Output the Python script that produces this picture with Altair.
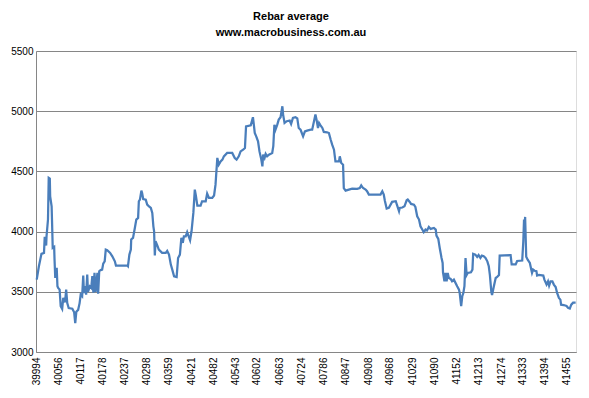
import altair as alt
import pandas as pd

# Excel date serials (x) and rebar average price (y)
dates = [
    39996, 40002, 40009, 40016, 40018, 40022, 40023, 40027, 40029, 40032,
    40033, 40037, 40038, 40040, 40044, 40045, 40047, 40051, 40053, 40055,
    40059, 40062, 40066, 40069, 40074, 40077, 40080, 40084, 40094, 40099,
    40102, 40105, 40110, 40114, 40117, 40121, 40124, 40126, 40129, 40132,
    40135, 40137, 40142, 40146, 40149, 40152, 40155, 40158, 40163, 40165,
    40168, 40172, 40176, 40179, 40183, 40186, 40190, 40198, 40204, 40211,
    40214, 40245, 40247, 40251, 40255, 40256, 40261, 40266, 40270, 40275,
    40277, 40280, 40284, 40286, 40289, 40296, 40300, 40305, 40310, 40314,
    40317, 40319, 40321, 40323, 40328, 40332, 40341, 40351, 40355, 40360,
    40365, 40369, 40374, 40381, 40385, 40390, 40394, 40398, 40401, 40406,
    40410, 40418, 40422, 40427, 40431, 40434, 40438, 40447, 40451, 40461,
    40465, 40470, 40479, 40484, 40488, 40493, 40497, 40502, 40507, 40511,
    40520, 40534, 40541, 40546, 40552, 40557, 40564, 40569, 40572, 40585,
    40591, 40594, 40596, 40600, 40605, 40609, 40614, 40617, 40619, 40623,
    40626, 40630, 40635, 40644, 40647, 40650, 40653, 40658, 40662, 40667,
    40672, 40674, 40678, 40684, 40692, 40696, 40701, 40708, 40713, 40717,
    40722, 40729, 40734, 40740, 40750, 40754, 40759, 40763, 40766, 40770,
    40773, 40777, 40782, 40786, 40795, 40800, 40805, 40809, 40814, 40818,
    40828, 40830, 40834, 40839, 40841, 40846, 40855, 40864, 40878, 40885,
    40889, 40894, 40901, 40905, 40910, 40942, 40947, 40951, 40954, 40959,
    40965, 40974, 40984, 40988, 40993, 40995, 41002, 41008, 41014, 41017,
    41023, 41026, 41034, 41038, 41043, 41048, 41052, 41057, 41061, 41066,
    41070, 41075, 41080, 41089, 41094, 41096, 41101, 41105, 41110, 41113,
    41114, 41118, 41121, 41124, 41127, 41130, 41135, 41139, 41144, 41153,
    41158, 41160, 41164, 41167, 41170, 41173, 41176, 41179, 41182, 41191,
    41195, 41197, 41203, 41208, 41212, 41217, 41221, 41226, 41231, 41236,
    41240, 41243, 41247, 41249, 41254, 41259, 41263, 41268, 41270, 41300,
    41303, 41314, 41318, 41332, 41335, 41337, 41338, 41340, 41343, 41347,
    41353, 41357, 41359, 41362, 41366, 41371, 41373, 41378, 41390, 41393,
    41399, 41403, 41406, 41410, 41415, 41419, 41424, 41428, 41433, 41437,
    41439, 41446, 41454, 41458, 41463, 41467, 41472, 41479,
]
prices = [
    3601, 3712, 3815, 3823, 3956, 3884, 3961, 4100, 4446, 4440,
    4293, 4210, 4100, 3865, 3873, 3768, 3615, 3699, 3546, 3532,
    3518, 3380, 3358, 3450, 3413, 3518, 3407, 3365, 3360, 3330,
    3240, 3335, 3350, 3406, 3477, 3463, 3635, 3490, 3546, 3477,
    3643, 3500, 3545, 3532, 3630, 3493, 3657, 3500, 3657, 3485,
    3671, 3680, 3684, 3734, 3753, 3850, 3845, 3823, 3795, 3753,
    3718, 3718, 3712, 3809, 3850, 3934, 3948, 4030, 4100, 4114,
    4252, 4266, 4340, 4321, 4271, 4266, 4224, 4210, 4197, 4155,
    4044, 4003, 3801, 3920, 3884, 3850, 3823, 3823, 3839, 3809,
    3726, 3684, 3629, 3623, 3781, 3809, 3948, 3906, 3961, 3961,
    3995, 3928, 4003, 4155, 4349, 4299, 4216, 4216, 4252, 4252,
    4316, 4280, 4280, 4300, 4390, 4612, 4556, 4583, 4598, 4625,
    4653, 4653, 4611, 4598, 4625, 4666, 4680, 4694, 4874, 4883,
    4950, 4874, 4819, 4791, 4750, 4666, 4598, 4542, 4639, 4612,
    4645, 4625, 4639, 4653, 4709, 4888, 4846, 4888, 4930, 4950,
    5041, 4972, 4903, 4917, 4922, 4894, 4944, 4950, 4940, 4860,
    4846, 4791, 4832, 4839, 4846, 4846, 4917, 4972, 4930, 4861,
    4902, 4883, 4861, 4828, 4825, 4819, 4763, 4722, 4680, 4584,
    4584, 4625, 4570, 4556, 4362, 4340, 4349, 4357, 4355, 4362,
    4384, 4362, 4349, 4335, 4307, 4307, 4335, 4307, 4257, 4191,
    4197, 4247, 4252, 4216, 4169, 4197, 4200, 4210, 4260, 4266,
    4244, 4230, 4224, 4205, 4127, 4100, 4044, 4017, 3995, 4017,
    4010, 4039, 4022, 4030, 4017, 3967, 3939, 3864, 3781, 3740,
    3662, 3587, 3657, 3587, 3657, 3615, 3607, 3587, 3601, 3546,
    3518, 3490, 3380, 3463, 3490, 3546, 3781, 3640, 3657, 3662,
    3684, 3815, 3809, 3789, 3805, 3781, 3800, 3795, 3781, 3753,
    3712, 3640, 3500, 3473, 3546, 3615, 3623, 3640, 3801, 3805,
    3728, 3728, 3756, 3760, 3920, 4100, 3948, 4122, 3791, 3767,
    3740, 3684, 3657, 3684, 3675, 3671, 3635, 3640, 3635, 3601,
    3560, 3587, 3551, 3587, 3587, 3560, 3540, 3490, 3449, 3435,
    3393, 3390, 3382, 3368, 3362, 3393, 3410, 3410,
]
x_labels = [39994, 40056, 40117, 40178, 40237, 40298, 40359, 40421, 40482,
            40543, 40602, 40663, 40724, 40786, 40847, 40908, 40968, 41029,
            41090, 41152, 41213, 41274, 41333, 41394, 41455]
y_ticks = [3000, 3500, 4000, 4500, 5000, 5500]

df = pd.DataFrame({"date": dates, "price": prices})

FONT = "Liberation Sans"

chart = (
    alt.Chart(df)
    .mark_line(color="#4a7ebb", strokeWidth=2.25)
    .encode(
        x=alt.X("date:Q", title=None,
                scale=alt.Scale(domain=[39994, 41480], nice=False, zero=False),
                axis=alt.Axis(values=x_labels, format="d", labelAngle=270,
                              labelOverlap=False, grid=False, ticks=False,
                              labelPadding=5, domainColor="#868686")),
        y=alt.Y("price:Q", title=None,
                scale=alt.Scale(domain=[3000, 5500], nice=False, zero=False),
                axis=alt.Axis(values=y_ticks, format="d", ticks=False,
                              labelPadding=3, grid=True, gridColor="#868686",
                              domainColor="#868686")),
        order="date:Q",
    )
    .properties(
        width=540,
        height=301,
        padding={"left": 28, "top": 43, "right": 5, "bottom": 38},
        autosize=alt.AutoSizeParams(type="none"),
        title=alt.TitleParams(
            text="Rebar average",
            subtitle="www.macrobusiness.com.au",
            font=FONT, subtitleFont=FONT,
            fontSize=11, subtitleFontSize=11,
            fontWeight="bold", subtitleFontWeight="bold",
            color="#000000", subtitleColor="#000000",
            anchor="middle", dx=-15, offset=8, subtitlePadding=5,
        ),
    )
    .configure_view(stroke=None)
    .configure_axis(labelFont=FONT, labelFontSize=11, labelColor="#000000",
                    gridWidth=1, domainWidth=1)
    .configure(background="white")
)

chart.save("out.html", embed_options={"renderer": "svg", "actions": False})
